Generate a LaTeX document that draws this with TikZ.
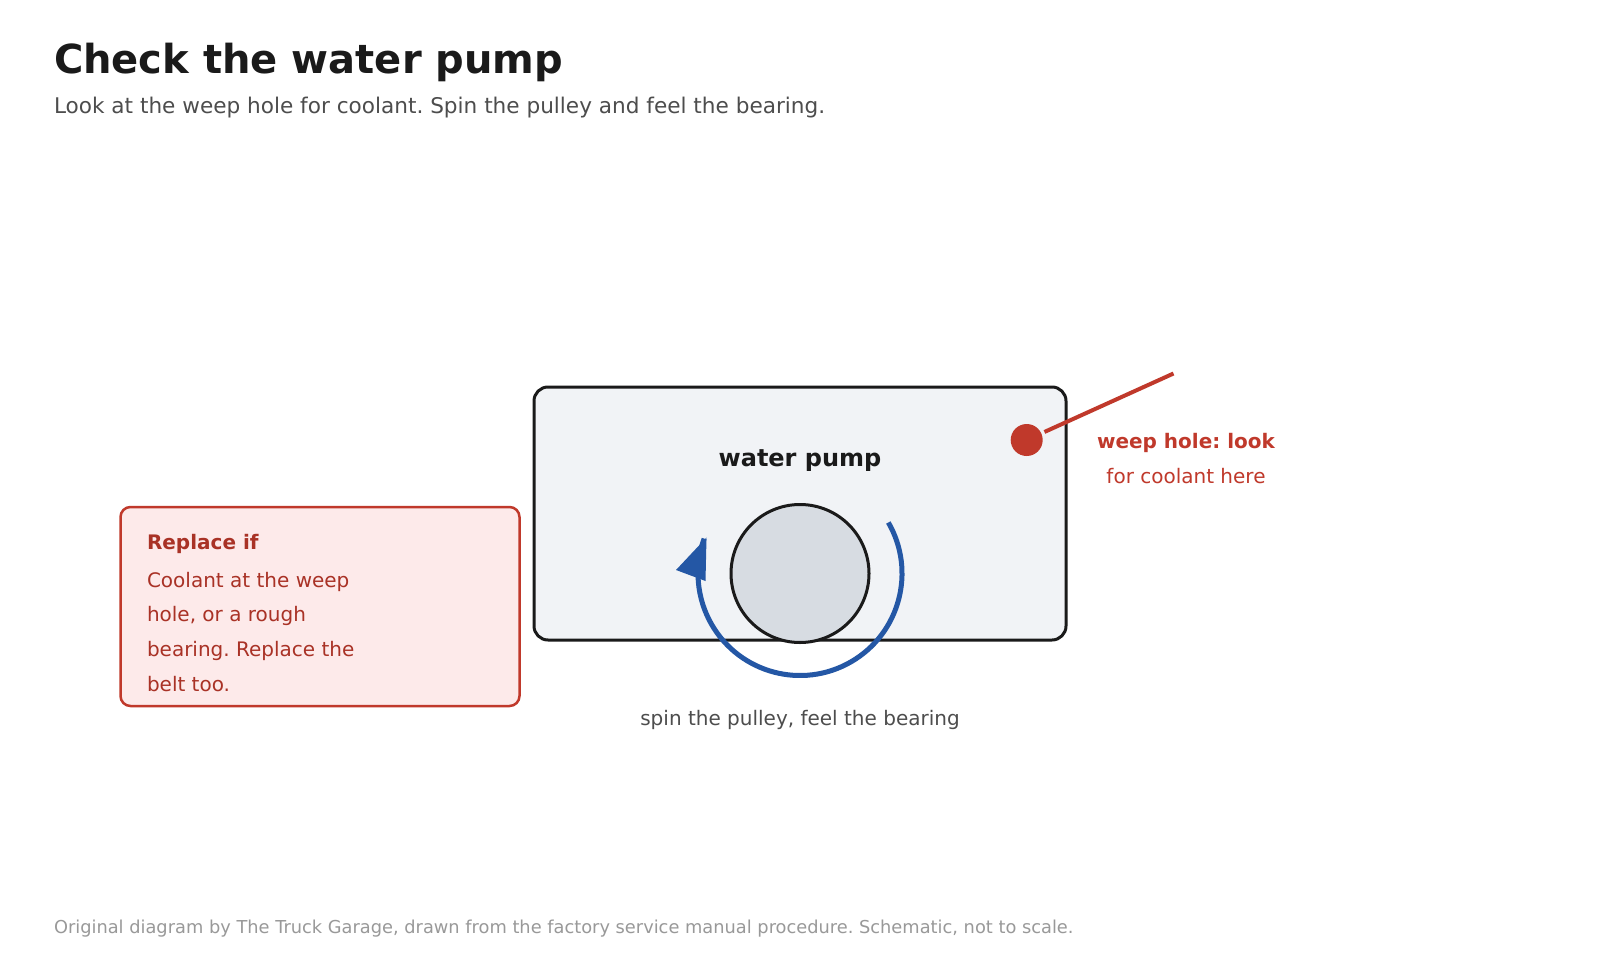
\documentclass[tikz,border=0pt]{standalone}
\usepackage{fontspec}
\setmainfont{DejaVu Sans}
\frenchspacing
\definecolor{ink}{HTML}{1A1A1A}
\definecolor{sub}{HTML}{4D4D4D}
\definecolor{pumpfill}{HTML}{F1F3F6}
\definecolor{pulleyfill}{HTML}{D7DCE2}
\definecolor{spinblue}{HTML}{2457A5}
\definecolor{warnred}{HTML}{C0392B}
\definecolor{warnfill}{HTML}{FDEAEA}
\definecolor{warntext}{HTML}{A93226}
\definecolor{foot}{HTML}{999999}
\newcommand{\fs}[1]{\fontsize{#1}{#1}\selectfont}
\tikzset{
  txt/.style={inner sep=0pt, outer sep=0pt},
  pumpbox/.style={draw=ink, fill=pumpfill, line width=3pt, rounded corners=14pt, minimum width=532pt, minimum height=253pt, inner sep=0pt},
  pulleystyle/.style={circle, draw=ink, fill=pulleyfill, line width=3pt, minimum size=138pt, inner sep=0pt},
  spin/.style={draw=spinblue, line width=5pt},
  warnbox/.style={draw=warnred, fill=warnfill, line width=2.5pt, rounded corners=10pt, minimum width=399pt, minimum height=199pt, inner sep=0pt},
}
\begin{document}
\begin{tikzpicture}[x=1pt,y=-1pt]
\useasboundingbox[fill=white] (0,0) rectangle (1600,960);
% title
\node[txt, anchor=base west, text=ink, font=\fs{40}\bfseries] (title) at (54,73.5) {Check the water pump};
\node[txt, anchor=base west, text=sub, font=\fs{21.6}] (subtitle) at (54,114) {Look at the weep hole for coolant. Spin the pulley and feel the bearing.};
% pump
\node[pumpbox] (pump) at (800,513.5) {};
\node[txt, anchor=base, text=ink, font=\fs{24}\bfseries] (pumplabel) at (800,466) {water pump};
% spin arrow
\coordinate (pc) at (800,573.5);
\draw[spin] (pc) ++(-30:102) arc[start angle=-30, end angle=200, radius=102];
\fill[spinblue] (676,570) -- (706.5,537.5) -- (705.5,581) -- cycle;
\node[pulleystyle] (pulley) at (pc) {};
% weep hole
\node[circle, fill=warnred, minimum size=32pt, inner sep=0pt, outer sep=3.5pt] (weep) at (1026.7,440) {};
\coordinate (weepend) at (1173.5,373.5);
\draw[warnred, line width=4pt] (weep) -- (weepend);
\node[txt, anchor=base, text=warnred, font=\fs{20}\bfseries] (weepa) at (1186,448) {weep hole: look};
\node[txt, anchor=base, text=warnred, font=\fs{20}] (weepb) at (1186,483) {for coolant here};
% replace box
\node[warnbox] (replace) at (320,606.5) {};
\node[txt, anchor=base west, text=warntext, font=\fs{20}\bfseries] (rtitle) at (147,549) {Replace if};
\node[txt, anchor=base west, text=warntext, font=\fs{20}] (r1) at (147,587) {Coolant at the weep};
\node[txt, anchor=base west, text=warntext, font=\fs{20}] (r2) at (147,621.5) {hole, or a rough};
\node[txt, anchor=base west, text=warntext, font=\fs{20}] (r3) at (147,656) {bearing. Replace the};
\node[txt, anchor=base west, text=warntext, font=\fs{20}] (r4) at (147,691) {belt too.};
% caption
\node[txt, anchor=base, text=sub, font=\fs{20}] (caption) at (800,725.5) {spin the pulley, feel the bearing};
% footer
\node[txt, anchor=base west, text=foot, font=\fs{17.8}] (footer) at (54,933.5) {Original diagram by The Truck Garage, drawn from the factory service manual procedure. Schematic, not to scale.};
\end{tikzpicture}
\end{document}
